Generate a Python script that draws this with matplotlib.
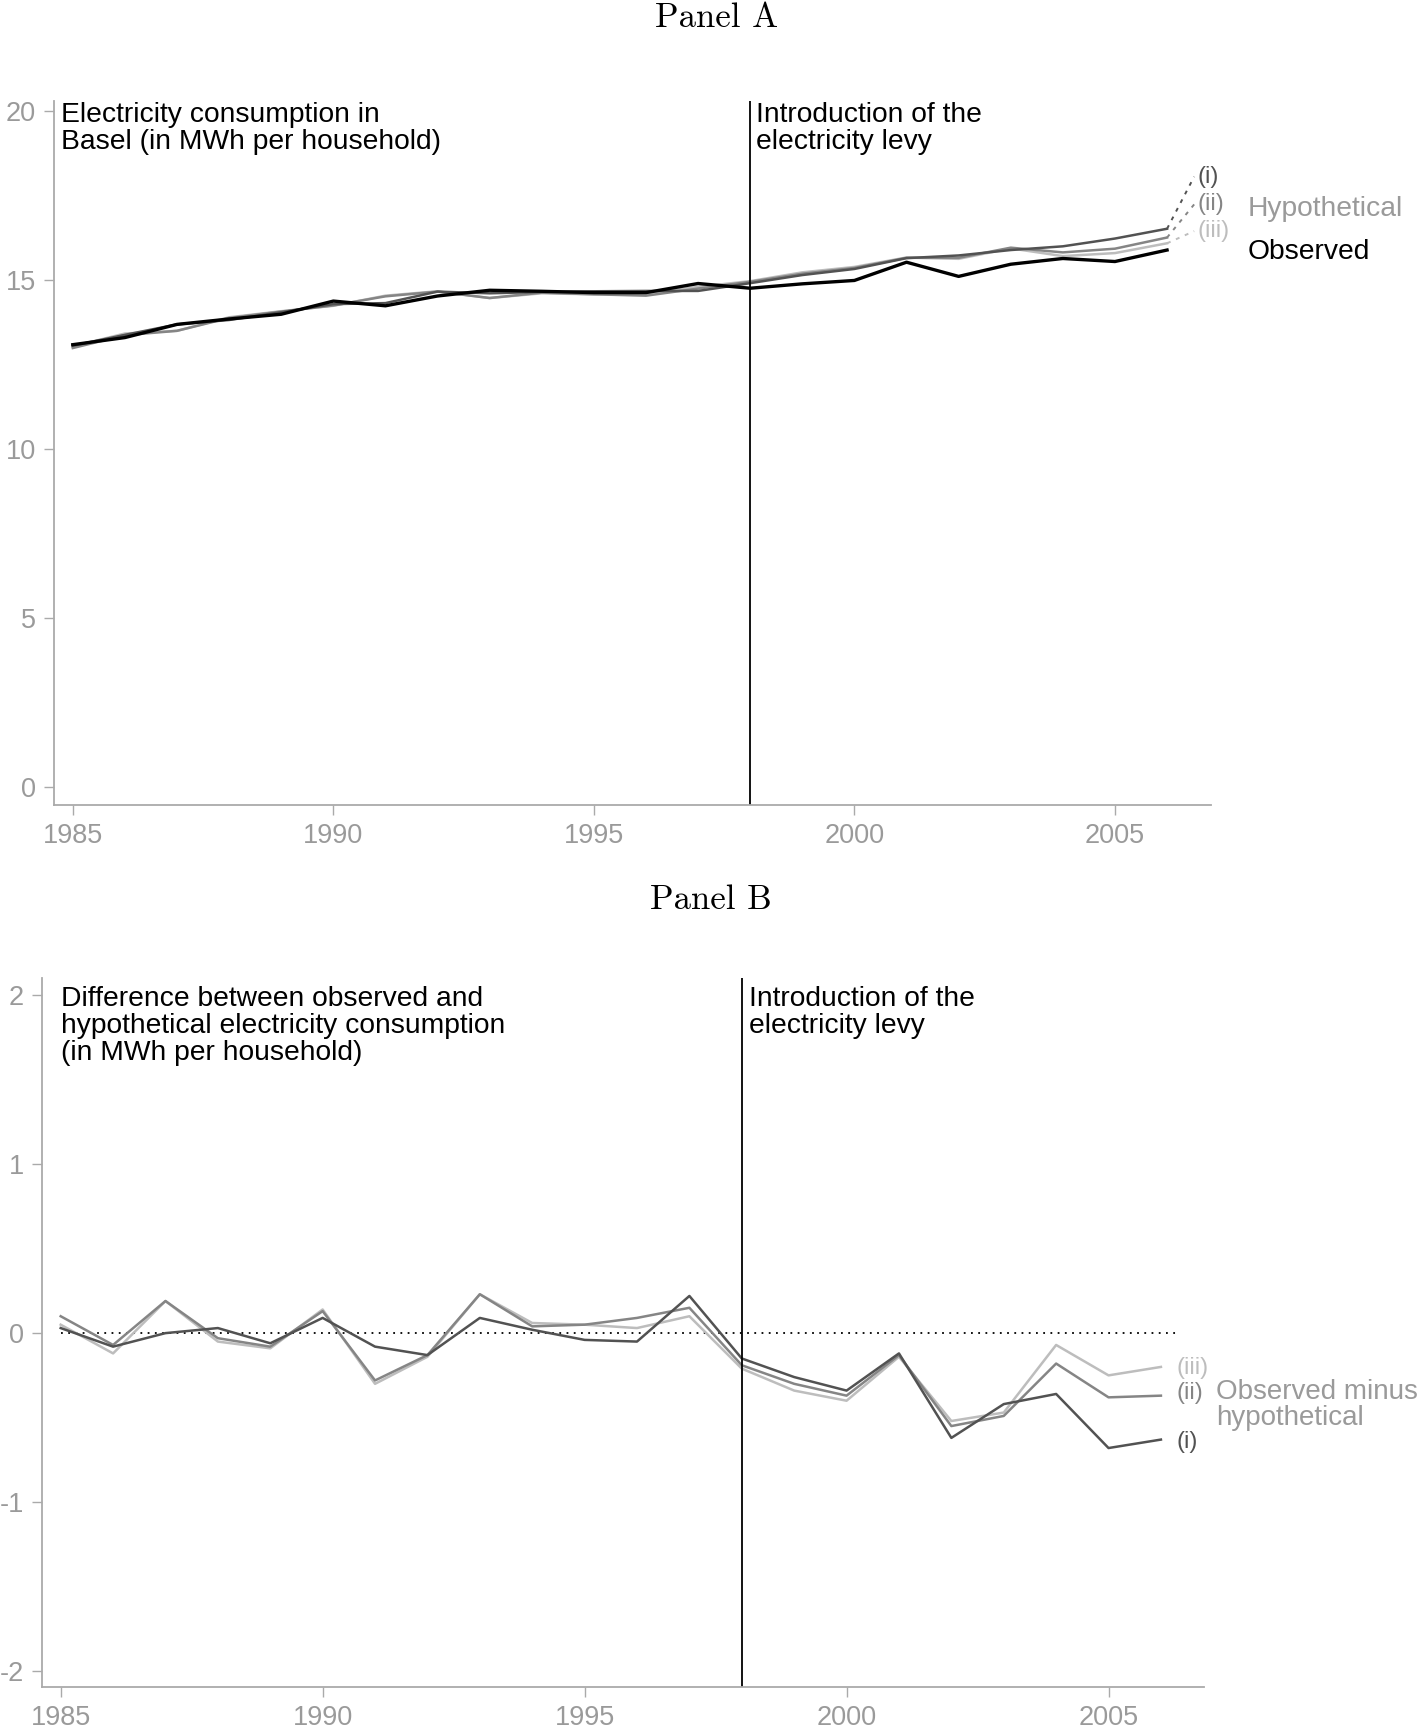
import numpy as np
import matplotlib
matplotlib.use("Agg")
import matplotlib.pyplot as plt
import matplotlib.transforms as mtransforms

plt.rcParams['font.family'] = ['Liberation Sans', 'DejaVu Sans']
plt.rcParams['axes.unicode_minus'] = False

# data
years = list(range(1985, 2007))
observed = [13.10, 13.31, 13.70, 13.86, 14.00, 14.39, 14.25, 14.54, 14.71, 14.68, 14.64,
            14.64, 14.91, 14.77, 14.90, 15.00, 15.54, 15.12, 15.48, 15.65, 15.56, 15.90]
hyp_i = [13.07, 13.39, 13.70, 13.83, 14.06, 14.30, 14.33, 14.67, 14.62, 14.66, 14.68,
         14.69, 14.69, 14.92, 15.16, 15.34, 15.66, 15.74, 15.90, 16.01, 16.24, 16.53]
hyp_ii = [13.00, 13.38, 13.51, 13.89, 14.08, 14.26, 14.53, 14.67, 14.48, 14.64, 14.59,
          14.55, 14.76, 14.96, 15.20, 15.37, 15.67, 15.67, 15.97, 15.83, 15.94, 16.27]
hyp_iii = [13.05, 13.43, 13.51, 13.91, 14.09, 14.25, 14.55, 14.68, 14.48, 14.62, 14.59,
           14.61, 14.81, 14.98, 15.24, 15.40, 15.68, 15.64, 15.95, 15.72, 15.81, 16.10]
diff_i = [0.03, -0.08, 0.00, 0.03, -0.06, 0.09, -0.08, -0.13, 0.09, 0.02, -0.04,
          -0.05, 0.22, -0.15, -0.26, -0.34, -0.12, -0.62, -0.42, -0.36, -0.68, -0.63]
diff_ii = [0.10, -0.07, 0.19, -0.03, -0.08, 0.13, -0.28, -0.13, 0.23, 0.04, 0.05,
           0.09, 0.15, -0.19, -0.30, -0.37, -0.13, -0.55, -0.49, -0.18, -0.38, -0.37]
diff_iii = [0.05, -0.12, 0.19, -0.05, -0.09, 0.14, -0.30, -0.14, 0.23, 0.06, 0.05,
            0.03, 0.10, -0.21, -0.34, -0.40, -0.14, -0.52, -0.47, -0.07, -0.25, -0.20]
levy_year = 1998
labels = ['(i)', '(ii)', '(iii)']

c_i, c_ii, c_iii = '#525252', '#858585', '#bdbdbd'
gray_txt = '#9a9a9a'
spine_c = '#aaaaaa'
fs = 19.5     # tick labels
fs_txt = 20.3  # annotations / legend text
fs_lab = 17    # (i)/(ii)/(iii)

fig = plt.figure(figsize=(14.18, 17.29), dpi=100)
axA = fig.add_axes([0.0381, 0.5344, 0.8158, 0.4070])
axB = fig.add_axes([0.0295, 0.0243, 0.8195, 0.4101])


def style(ax):
    for s in ['top', 'right']:
        ax.spines[s].set_visible(False)
    for s in ['left', 'bottom']:
        ax.spines[s].set_color(spine_c)
        ax.spines[s].set_linewidth(1.3)
    ax.tick_params(colors=spine_c, labelcolor=gray_txt, labelsize=fs, length=7, width=1.0, pad=6)
    ax.set_xticks([1985, 1990, 1995, 2000, 2005])
    ax.set_xlim(1984.64, 2006.84)


# Panel A
style(axA)
axA.set_ylim(-0.52, 20.3)
axA.set_yticks([0, 5, 10, 15, 20])
axA.plot(years, hyp_iii, color=c_iii, lw=1.8)
axA.plot(years, hyp_ii, color=c_ii, lw=1.8)
axA.plot(years, hyp_i, color=c_i, lw=1.8)
axA.plot(years, observed, color='black', lw=2.4)
axA.axvline(levy_year, color='black', lw=1.3)
trA = mtransforms.blended_transform_factory(axA.transData, axA.transAxes)
axA.text(1984.77, 0.999, 'Electricity consumption in\nBasel (in MWh per household)',
         transform=trA, va='top', ha='left', fontsize=fs_txt, linespacing=1.03)
axA.text(1998.12, 0.999, 'Introduction of the\nelectricity levy',
         transform=trA, va='top', ha='left', fontsize=fs_txt, linespacing=1.03)

lab_y = [18.07, 17.25, 16.46]
for h, c, lab, ly in zip([hyp_i, hyp_ii, hyp_iii], [c_i, c_ii, c_iii], labels, lab_y):
    axA.plot([years[-1], 2006.52], [h[-1], ly], color=c, lw=1.4, ls=(0, (2, 3)),
             clip_on=False)
    axA.text(2006.58, ly, lab, color=c, fontsize=fs_lab, va='center', ha='left')
axA.text(2007.55, 17.12, 'Hypothetical', color=gray_txt, fontsize=fs_txt, va='center', ha='left')
axA.text(2007.55, 15.84, 'Observed', color='black', fontsize=fs_txt, va='center', ha='left')

# Panel B
style(axB)
axB.set_xlim(1984.64, 2006.82)
axB.set_ylim(-2.094, 2.102)
axB.set_yticks([-2, -1, 0, 1, 2])
axB.plot([1985, 2006.3], [0, 0], color='black', lw=1.3, ls=(0, (1, 3)))
axB.plot(years, diff_iii, color=c_iii, lw=1.8)
axB.plot(years, diff_ii, color=c_ii, lw=1.8)
axB.plot(years, diff_i, color=c_i, lw=1.8)
axB.axvline(levy_year, color='black', lw=1.3)
trB = mtransforms.blended_transform_factory(axB.transData, axB.transAxes)
axB.text(1985.0, 0.988, 'Difference between observed and\nhypothetical electricity consumption\n(in MWh per household)',
         transform=trB, va='top', ha='left', fontsize=fs_txt, linespacing=1.03)
axB.text(1998.13, 0.988, 'Introduction of the\nelectricity levy',
         transform=trB, va='top', ha='left', fontsize=fs_txt, linespacing=1.03)

labB_y = [-0.644, -0.354, -0.206]
for c, lab, ly in zip([c_i, c_ii, c_iii], labels, labB_y):
    axB.text(2006.3, ly, lab, color=c, fontsize=fs_lab, va='center', ha='left', clip_on=False)
axB.text(2007.05, -0.425, 'Observed minus\nhypothetical', color=gray_txt, fontsize=fs_txt - 0.3,
         va='center', ha='left', linespacing=1.0)

fig.text(0.5055, 0.9895, 'Panel A', family='cmr10', fontsize=25, ha='center', va='center')
fig.text(0.5016, 0.4792, 'Panel B', family='cmr10', fontsize=25, ha='center', va='center')

fig.savefig('out.png', dpi=100)
